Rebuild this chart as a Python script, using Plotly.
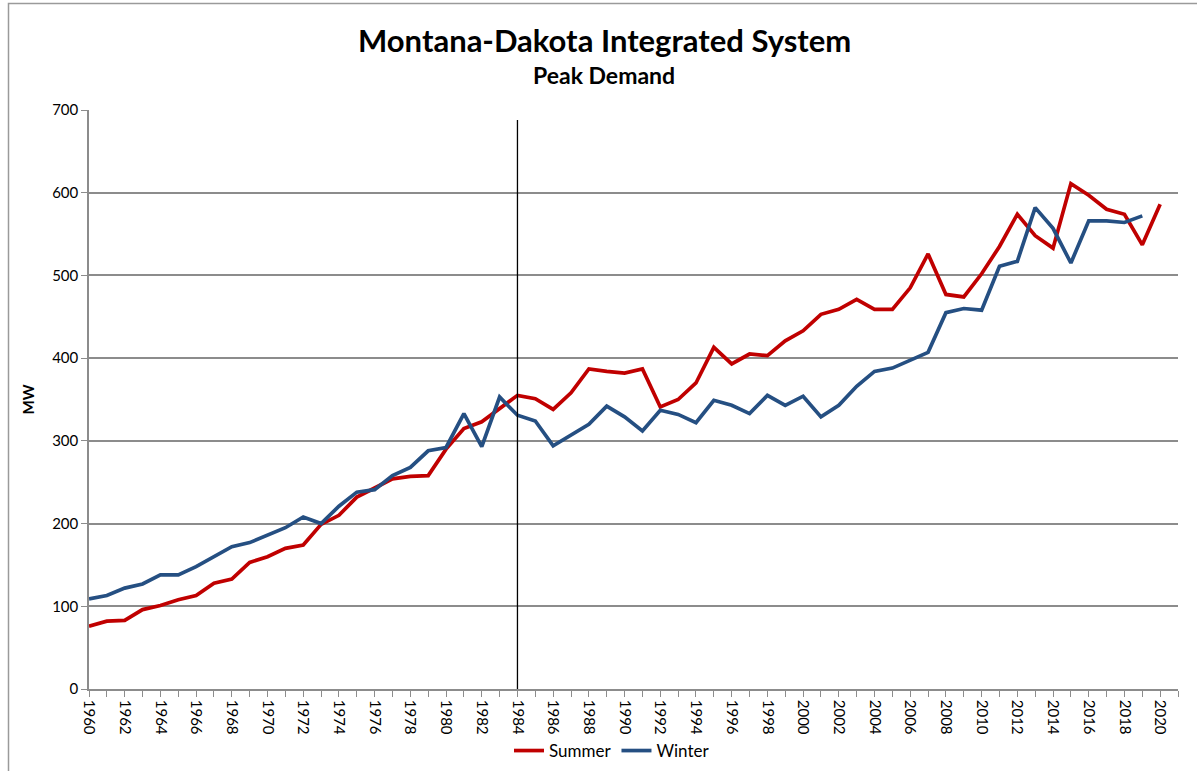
import plotly.graph_objects as go

years = list(range(1960, 2021))
summer = [76, 82, 83, 96, 101, 108, 113, 128, 133, 153, 160, 170, 174, 199, 210,
          232, 243, 254, 257, 258, 290, 315, 323, 339, 355, 351, 338, 358, 387, 384,
          382, 387, 341, 350, 370, 413, 393, 405, 403, 421, 433, 453, 459, 471, 459,
          459, 485, 526, 477, 474, 502, 535, 574, 548, 533, 611, 597, 580, 574, 537, 586]
winter_years = list(range(1960, 2020))
winter = [109, 113, 122, 127, 138, 138, 148, 160, 172, 177, 186, 195, 208, 200, 221,
          238, 241, 258, 268, 288, 292, 333, 293, 353, 331, 324, 294, 307, 320, 342,
          329, 312, 337, 332, 322, 349, 343, 333, 355, 343, 354, 329, 343, 366, 384,
          388, 397, 407, 455, 460, 458, 511, 517, 582, 557, 515, 566, 566, 564, 572]

title = "Montana-Dakota Integrated System"
subtitle = "Peak Demand"
y_title = "MW"
marker_year = 1984

FONT = "Lato, 'Open Sans', sans-serif"
RED = "#C00000"
BLUE = "#254F82"
GRID = "#8C8C8C"

W, H = 1197, 771
L, R, T, B = 89, 1178, 110, 689


def px_x(p):
    return (p - L) / (R - L)


def px_y(p):
    return (B - p) / (B - T)


fig = go.Figure()
fig.add_trace(go.Scatter(x=years, y=summer, mode="lines", name="Summer",
                         line=dict(color=RED, width=3.7)))
fig.add_trace(go.Scatter(x=winter_years, y=winter, mode="lines", name="Winter",
                         line=dict(color=BLUE, width=3.7)))

fig.add_shape(type="line", xref="x", yref="y", x0=marker_year, x1=marker_year,
              y0=0, y1=688, line=dict(color="black", width=1.3))

# outer chart border
fig.add_shape(type="rect", xref="paper", yref="paper",
              x0=px_x(8.5), x1=px_x(1205), y0=px_y(790), y1=px_y(3.5),
              line=dict(color="#9A9A9A", width=1.5), fillcolor="rgba(0,0,0,0)",
              layer="below")

fig.add_annotation(text=f"<b>{title}</b>", xref="paper", yref="paper",
                   x=px_x(604), y=px_y(40), showarrow=False,
                   font=dict(family=FONT, size=31, color="black"),
                   xanchor="center", yanchor="middle")
fig.add_annotation(text=f"<b>{subtitle}</b>", xref="paper", yref="paper",
                   x=px_x(604), y=px_y(75), showarrow=False,
                   font=dict(family=FONT, size=23, color="black"),
                   xanchor="center", yanchor="middle")

fig.update_layout(
    width=W, height=H,
    margin=dict(l=L, r=W - R, t=T, b=H - B, autoexpand=False),
    paper_bgcolor="white", plot_bgcolor="white",
    font=dict(family=FONT, size=15, color="black"),
    showlegend=True,
    legend=dict(orientation="h", x=612 / W, xanchor="center", xref="container",
                y=1 - 751 / H, yref="container", yanchor="middle",
                font=dict(size=17), tracegroupgap=0,
                bgcolor="rgba(0,0,0,0)"),
)
fig.update_xaxes(range=[1960, 2021], tickmode="linear", tick0=1960, dtick=2,
                 tickangle=90, ticks="outside", ticklen=6, tickcolor=GRID,
                 showline=True, linecolor=GRID, linewidth=1.5,
                 showgrid=False, zeroline=False, automargin=False,
                 minor=dict(dtick=1, ticks="outside", ticklen=6, tickcolor=GRID,
                            showgrid=False),
                 tickfont=dict(size=15))
fig.update_yaxes(range=[0, 700], tickmode="linear", tick0=0, dtick=100,
                 ticks="outside", ticklen=6, tickcolor=GRID,
                 showline=True, linecolor=GRID, linewidth=1.5,
                 showgrid=True, gridcolor=GRID, gridwidth=1.5, zeroline=False,
                 automargin=False,
                 title=dict(text=f"<b>{y_title}</b>", standoff=14,
                            font=dict(size=15)),
                 tickfont=dict(size=15))

fig.write_html("out.html", config={"displayModeBar": False},
               post_script="document.body.style.margin='0';")
